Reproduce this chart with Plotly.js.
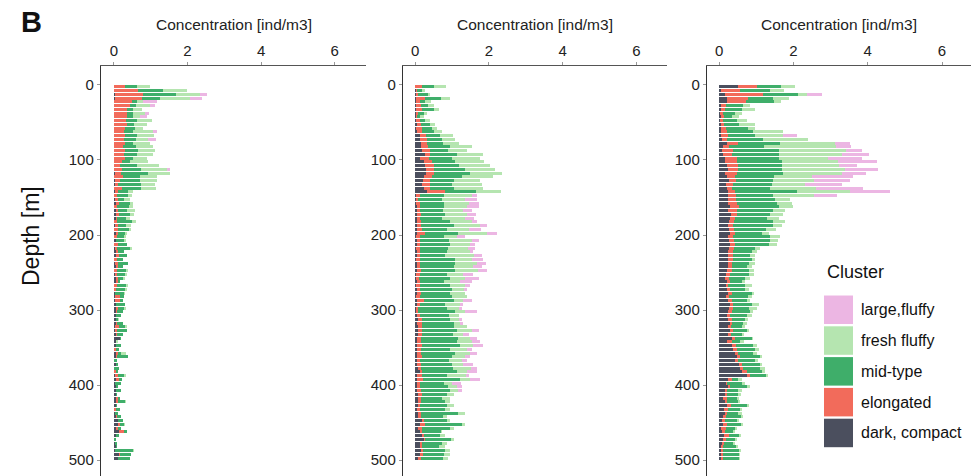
<!DOCTYPE html>
<html>
<head>
<meta charset="utf-8">
<script src="https://cdn.plot.ly/plotly-3.0.1.min.js"></script>
<style>html,body{margin:0;padding:0;background:#fff;}#chart{width:971px;height:476px;}</style>
</head>
<body>
<div id="chart"></div>
<script>
// Depth bins (bin centres, m)
const depth = [2.5,7.5,12.5,17.5,22.5,27.5,32.5,37.5,42.5,47.5,
52.5,57.5,62.5,67.5,72.5,77.5,82.5,87.5,92.5,97.5,
102.5,107.5,112.5,117.5,122.5,127.5,132.5,137.5,142.5,147.5,
152.5,157.5,162.5,167.5,172.5,177.5,182.5,187.5,192.5,197.5,
202.5,207.5,212.5,217.5,222.5,227.5,232.5,237.5,242.5,247.5,
252.5,257.5,262.5,267.5,272.5,277.5,282.5,287.5,292.5,297.5,
302.5,307.5,312.5,317.5,322.5,327.5,332.5,337.5,342.5,347.5,
352.5,357.5,362.5,367.5,372.5,377.5,382.5,387.5,392.5,397.5,
402.5,407.5,412.5,417.5,422.5,427.5,432.5,437.5,442.5,447.5,
452.5,457.5,462.5,467.5,472.5,477.5,482.5,487.5,492.5,497.5];

const clusters = ["dark, compact","elongated","mid-type","fresh fluffy","large,fluffy"];
const clusterColors = ["#4b4f5e","#f26b5b","#3fae6a","#b5e5b0","#ecb6e3"];
const xTicks = [0,2,4,6];
const yTicks = [0,100,200,300,400,500];

// Panel 1
const p1_dark = [0,0,.03,.04,0,0,0,0,0,0,
0,0,0,0,0,0,0,0,0,0,
0,0,0,.03,0,.03,.03,0,.03,0,
.04,.05,0,.05,.07,.05,0,.04,0,.05,
0,.05,0,.04,.07,.05,0,.04,.05,0,
.03,.05,.07,0,0,.04,.03,.03,.05,.07,
.05,.05,.07,.05,.04,.03,.05,.16,.07,.05,
0,.05,.05,0,.07,0,0,.03,.05,.03,
.05,.07,.05,.05,.07,.05,0,.04,.05,.12,
.12,.05,.15,.05,0,.03,.05,.03,.13,.1];
const p1_elong = [.30,.66,.77,.72,.48,.44,.35,.36,.35,.33,
.35,.30,.27,.30,.27,.30,.25,.30,.27,.30,
.21,.16,.21,.15,.25,.13,.09,.21,.09,.09,
.08,.10,.09,.06,.06,.04,.09,.08,.12,.05,
.09,0,.12,.05,.05,.09,.09,.08,.06,.09,
.05,.06,.05,.09,.05,0,.14,.14,0,.05,
.04,0,0,.04,.11,.06,.04,0,0,0,
.07,.06,.04,0,0,0,.07,.09,.09,0,
0,0,0,.06,.05,0,.07,0,.04,0,
.05,.06,.13,0,0,0,0,0,.03,0];
const p1_mid = [.32,.68,.89,.50,.14,.16,.18,.16,.16,.29,
.21,.27,.25,.34,.33,.23,.36,.36,.35,.23,
.23,.47,.52,.75,.47,.56,.61,.52,.25,.30,
.15,.29,.31,.25,.32,.24,.39,.21,.30,.19,
.18,.22,.23,.36,.15,.22,.15,.27,.14,.25,
.23,.15,.05,.24,.25,.24,.11,.07,.25,.15,
.16,.15,.05,.15,.15,.27,.16,.02,0,.13,
.07,.09,.30,.09,.05,.15,.05,.15,.09,.15,
.06,.11,.04,.06,.18,.04,.09,.08,.09,.12,
.11,.09,.07,.09,.05,.05,.03,.50,.31,.33];
const p1_fresh = [.36,.64,.65,.82,.18,.38,.23,.32,.20,.41,
.34,.23,.55,.44,.34,.45,.45,.45,.45,.36,
.50,.60,.71,.59,.44,.44,.39,.42,.16,.10,
.18,.07,.13,.21,.09,.11,.12,.13,.04,.06,
.07,.05,0,.04,0,0,0,0,0,.05,
.05,.05,0,.04,.05,.03,0,0,0,.05,
0,0,.03,0,.05,0,0,0,.05,0,
0,.12,0,0,0,0,0,.07,0,0,
0,.02,0,0,.03,0,0,0,0,0,
.02,0,0,0,0,0,0,.03,0,0];
const p1_large = [0,0,.20,.32,.36,.14,0,.12,.18,0,
0,0,.09,0,.21,0,0,0,0,0,
0,0,.09,0,0,0,0,0,0,0,
0,0,0,0,0,0,0,0,0,0,
0,0,0,0,0,0,0,0,0,0,
0,0,0,0,0,0,0,0,0,0,
0,0,0,0,0,0,0,0,0,0,
0,0,0,0,0,0,0,0,0,0,
0,0,0,0,0,0,0,0,0,0,
0,0,0,0,0,0,0,0,0,0];

// Panel 2
const p2_dark = [0,.02,.03,.03,.03,.03,.03,.02,.02,.03,
.06,.03,.05,.12,.14,.15,.15,.18,.27,.14,
.23,.27,.30,.30,.24,.21,.18,.23,.32,.03,
.03,.03,.04,.04,.05,.04,.04,.05,.05,.05,
.03,.04,.04,.03,.04,.04,.03,.04,.04,.04,
.03,.03,.04,.03,.04,.04,.03,.05,.04,.03,
.03,.04,.09,.06,.09,.09,.09,.06,.05,.06,
.06,.05,.06,.05,.06,.09,.12,.05,.06,.05,
.06,.06,.09,.09,.09,.09,.06,.09,.09,.18,
.12,.09,.14,.18,.23,.12,.14,.15,.14,.09];
const p2_elong = [.18,.04,.06,.23,.11,.12,.15,.07,.04,.10,
.09,.15,.13,.18,.18,.18,.21,.21,.14,.23,
.23,.23,.20,.20,.21,.20,.21,.16,.50,.09,
.06,.11,.10,.08,.11,.10,.11,.11,.14,.22,
.09,.10,.10,.09,.10,.10,.09,.10,.10,.11,
.09,.07,.08,.09,.10,.11,.11,.18,.08,.06,
.06,.10,.09,.12,.09,.09,.09,.09,.11,.12,
.09,.11,.12,.09,.09,.06,.06,.14,.16,.09,
.07,.09,.09,.06,.06,.05,.07,.06,.06,.05,
.15,.09,.05,.05,.05,.06,.05,.05,.07,.06];
const p2_mid = [.34,.12,.25,.45,.14,.21,.32,.14,.08,.14,
.25,.27,.32,.38,.41,.43,.59,.51,.72,.63,
.63,.68,.86,.99,.81,.63,.60,.65,.82,.65,
.63,.63,.63,.63,.66,.59,.79,.88,.68,.90,
.65,.77,.81,.78,.72,.68,.96,.95,.90,.93,
.74,.85,.65,.83,.86,.79,.86,.81,.69,.77,
1.0,.77,.77,.86,.86,.95,.84,1.02,.97,1.04,
.80,.93,.81,.77,.84,.88,.95,.68,.99,.63,
.77,.79,.68,.57,.66,.72,.68,1.02,.61,.63,
1.0,.77,.50,.43,.68,.54,.45,.60,.58,.61];
const p2_fresh = [.31,.09,.06,.23,.14,.14,.14,.09,.11,.14,
.14,.14,.22,.34,.36,.43,.59,.50,.72,.77,
.77,.86,.81,.86,.86,.72,.81,.81,.68,.77,
.63,.68,.63,.56,.59,.63,.59,.72,.59,.77,
.36,.63,.54,.54,.63,.77,.45,.59,.54,.63,
.45,.41,.45,.41,.32,.41,.41,.27,.41,.32,
.27,.27,.23,.18,.36,.41,.29,.32,.41,.36,
.45,.41,.36,.36,.32,.48,.27,.50,.27,.23,
.23,.23,.18,.23,.14,.18,.14,.18,.09,.09,
.09,.09,.05,.15,.09,.14,.18,.14,.16,.14];
const p2_large = [0,0,0,0,0,0,0,0,0,0,
0,0,0,0,0,0,0,0,0,0,
0,0,0,0,0,0,0,0,0,.14,
.32,.27,.32,.23,.23,.23,.14,.20,.32,.27,
.23,.18,.14,.18,.09,.23,.32,.23,.23,.23,
.27,.36,.32,.14,.09,0,0,.23,.09,.09,
.32,0,.09,.09,0,.18,.14,.18,.23,.27,
.14,.18,.14,.14,.27,.18,.27,.09,.27,.23,
.14,.09,0,0,0,0,0,0,0,0,
0,0,0,0,0,0,0,0,0,0];

// Panel 3
const p3_dark = [.50,.06,.15,.20,.22,.06,.06,.03,.05,.03,
.04,.06,.06,.06,.08,.20,.11,.08,.11,.15,
.15,.20,.24,.15,.20,.26,.17,.20,.24,.23,
.23,.24,.29,.24,.32,.29,.26,.24,.26,.29,
.24,.26,.29,.26,.24,.23,.24,.23,.24,.20,
.17,.15,.20,.17,.20,.23,.17,.24,.29,.26,
.24,.20,.24,.29,.23,.29,.23,.33,.20,.33,
.38,.42,.47,.42,.52,.55,.60,.74,.24,.17,
.23,.15,.15,.11,.15,.20,.14,.15,.11,.08,
.11,.06,.08,.14,.11,.08,.06,.06,.06,.05];
const p3_elong = [.51,.50,1.04,.57,.50,.11,.09,.08,.09,.08,
.10,.11,.14,.18,.12,.31,.14,.30,.23,.32,
.32,.30,.27,.32,.23,.18,.21,.14,.18,.21,
.21,.23,.23,.25,.15,.14,.14,.14,.14,.14,
.14,.14,.14,.14,.14,.13,.14,.11,.11,.14,
.12,.11,.09,.07,.09,.11,.09,.09,.09,.12,
.11,.09,.09,.06,.09,.09,.09,.09,.14,.11,
.09,.09,.09,.09,.09,.10,.15,.08,.11,.05,
.06,.07,.07,.09,.07,.12,.09,.07,.06,.07,
.09,.11,.07,.11,.06,.05,.05,.05,.05,.06];
const p3_mid = [.66,.81,.94,.69,.75,.48,.45,.32,.20,.36,
.38,.61,.72,.72,.99,1.13,.95,1.22,1.26,1.14,
1.23,1.19,1.19,1.26,1.04,1.02,1.04,1.04,1.67,1.02,
1.06,1.08,1.08,.96,.90,.86,1.05,1.08,.87,.72,
.99,.96,.90,.56,.50,.47,.50,.45,.39,.45,
.50,.43,.32,.45,.41,.54,.52,.41,.50,.41,
.48,.45,.36,.30,.29,.36,.29,.45,.23,.48,
.50,.41,.54,.45,.50,.45,.40,.45,.16,.38,
.45,.29,.29,.27,.29,.42,.33,.29,.41,.32,
.39,.25,.23,.27,.25,.23,.35,.41,.41,.41];
const p3_fresh = [.36,.37,.22,.41,.20,.18,.36,.18,.18,.27,
.45,.18,.81,.77,1.20,1.48,1.94,1.80,1.71,1.33,
1.51,1.53,1.69,1.58,1.04,1.08,.90,1.22,1.44,1.08,
.41,.41,.38,.32,.36,.32,.32,.23,.27,.18,
.27,.22,.22,.14,.14,.14,.09,.16,.14,.14,
.14,.14,.09,.18,.09,.05,.09,.09,.18,.23,
.09,.14,.09,.09,.09,.05,.05,.05,.09,.09,
.09,.09,.05,.09,.05,.14,.09,.05,.09,.09,
.09,.09,.07,.06,.05,.05,.06,.09,.06,.05,
.06,.05,.05,.07,.05,.06,.05,.07,.05,.05];
const p3_large = [0,0,.43,0,0,0,0,0,0,0,
0,0,0,.36,0,.40,.41,.45,.72,.90,
1.04,.50,.88,.63,1.08,.99,.99,1.26,1.08,.63,
0,0,0,0,0,0,0,0,0,0,
0,0,0,0,0,0,0,0,0,0,
0,0,0,0,0,0,0,0,0,0,
0,0,0,0,0,0,0,0,0,0,
0,0,0,0,0,0,0,0,0,0,
0,0,0,0,0,0,0,0,0,0,
0,0,0,0,0,0,0,0,0,0];

const panels = [
  {series:[p1_dark,p1_elong,p1_mid,p1_fresh,p1_large], xa:'x', ya:'y'},
  {series:[p2_dark,p2_elong,p2_mid,p2_fresh,p2_large], xa:'x2', ya:'y2'},
  {series:[p3_dark,p3_elong,p3_mid,p3_fresh,p3_large], xa:'x3', ya:'y3'}
];

const traces = [];
panels.forEach(p => {
  p.series.forEach((vals, k) => {
    traces.push({
      type:'bar', orientation:'h', x: vals, y: depth,
      xaxis: p.xa, yaxis: p.ya, name: clusters[k],
      marker:{color: clusterColors[k], line:{width:0}},
      showlegend:false, hoverinfo:'skip'
    });
  });
});

const W = 971, H = 476, T = 66, PH = H - T;
const px = x => x / W;
const py = y => (H - y) / PH;
const FONT = '"Liberation Sans", Arial, Helvetica, sans-serif';

function xAxis(domain, range, anchor){
  return {domain: domain, range: range, side:'top', anchor: anchor,
    showline:true, linecolor:'#555', linewidth:1.2, mirror:false,
    ticks:'outside', ticklen:3, tickcolor:'#999', tickwidth:1,
    tickvals: xTicks, ticktext: xTicks.map(String),
    tickfont:{size:15, color:'#222', family:FONT},
    showgrid:false, zeroline:false, fixedrange:true};
}
function yAxis(anchor){
  return {domain:[0,1], range:[521.3,-25.3], anchor: anchor,
    showline:true, linecolor:'#333', linewidth:1.2,
    ticks:'outside', ticklen:3, tickcolor:'#999', tickwidth:1,
    tickvals: yTicks, ticktext: yTicks.map(String),
    tickfont:{size:15, color:'#222', family:FONT},
    showgrid:false, zeroline:false, fixedrange:true};
}

const doms = [[101/W, 366/W],[403/W, 667/W],[707/W, 1]];
const annotations = [];
doms.forEach(d => {
  annotations.push({text:'Concentration [ind/m3]', xref:'paper', yref:'paper',
    x:(d[0]+d[1])/2, y:py(25), xanchor:'center', yanchor:'middle', showarrow:false,
    font:{size:15.5, color:'#222', family:FONT}});
});
annotations.push({text:'<b>B</b>', xref:'paper', yref:'paper', x:px(31), y:py(22),
  xanchor:'center', yanchor:'middle', showarrow:false, font:{size:29, color:'#111', family:FONT}});
annotations.push({text:'Depth [m]', xref:'paper', yref:'paper', x:px(31), y:py(236),
  xanchor:'center', yanchor:'middle', textangle:-90, showarrow:false,
  font:{size:23, color:'#111', family:FONT}});
annotations.push({text:'Cluster', xref:'paper', yref:'paper', x:px(825), y:py(272),
  xanchor:'left', yanchor:'middle', showarrow:false, font:{size:18, color:'#111', family:FONT}});

const shapes = [];
const legendOrder = [4,3,2,1,0];
legendOrder.forEach((k, i) => {
  const y0 = 295.5 + 30.8 * i, y1 = y0 + 28.5;
  shapes.push({type:'rect', xref:'paper', yref:'paper', x0:px(824), x1:px(853),
    y0:py(y1), y1:py(y0), fillcolor: clusterColors[k], line:{width:0}});
  annotations.push({text: clusters[k], xref:'paper', yref:'paper', x:px(859), y:py((y0+y1)/2),
    xanchor:'left', yanchor:'middle', showarrow:false, font:{size:16, color:'#111', family:FONT}});
});

const layout = {
  width: W, height: H,
  margin:{l:0, r:0, t:T, b:0, pad:0},
  paper_bgcolor:'#fff', plot_bgcolor:'#fff',
  barmode:'stack', bargap:0.2,
  font:{family:FONT, color:'#222'},
  showlegend:false,
  xaxis: xAxis(doms[0], [-0.35, 6.85], 'y'),
  xaxis2: xAxis(doms[1], [-0.33, 6.83], 'y2'),
  xaxis3: xAxis(doms[2], [-0.33, 6.78], 'y3'),
  yaxis: yAxis('x'),
  yaxis2: yAxis('x2'),
  yaxis3: yAxis('x3'),
  annotations: annotations,
  shapes: shapes
};

Plotly.newPlot('chart', traces, layout, {staticPlot:true, displayModeBar:false});
</script>
</body>
</html>
